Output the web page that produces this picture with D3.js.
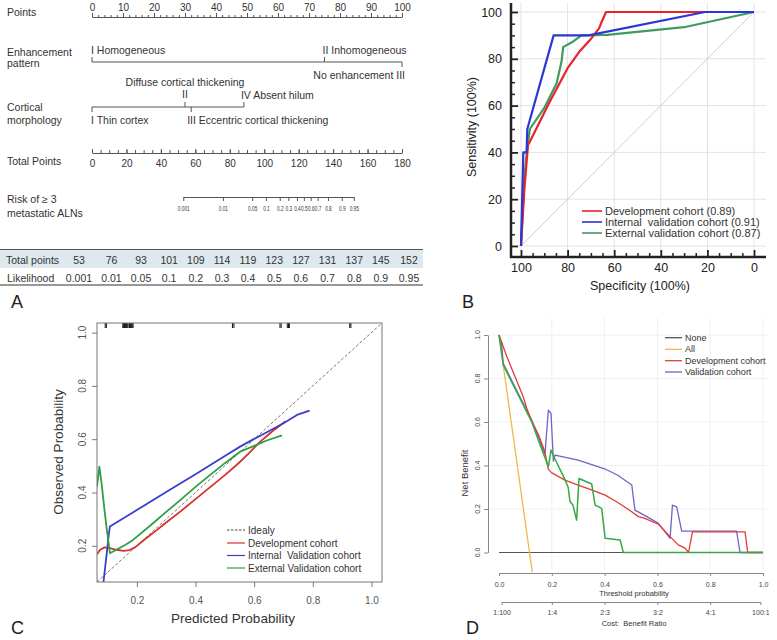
<!DOCTYPE html>
<html><head><meta charset="utf-8">
<script src="https://cdn.jsdelivr.net/npm/d3@7"></script>
<style>body{margin:0;background:#fff}svg{display:block}svg text{white-space:pre}</style>
</head><body>
<svg id="fig" width="777" height="640"></svg>
<script>
// ================= DATA =================
// Panel A – nomogram
const pointsTicks = d3.range(0, 101, 10);
const pointsMinor = d3.range(0, 101, 2);
const enhancementLabels = ["I Homogeneous", "II Inhomogeneous", "No enhancement III"];
const enhancementPoints = [0, 75, 100];
const corticalLabels = ["I Thin cortex", "II", "III Eccentric cortical thickening", "IV Absent hilum"];
const corticalPoints = [0, 30, 32, 49];
const corticalNote = "Diffuse cortical thickening";
const totalPointsTicks = d3.range(0, 181, 20);
const totalPointsMinor = d3.range(0, 181, 5);
const riskLabels = ["0.001","0.01","0.05","0.1","0.2","0.3","0.4","0.5","0.6","0.7","0.8","0.9","0.95"];
const riskTotalPoints = [53, 76, 93, 101, 109, 114, 119, 123, 127, 131, 137, 145, 152];
const nomoRowNames = ["Points", "Enhancement", "pattern", "Cortical", "morphology", "Total Points", "Risk of \u2265 3", "metastatic ALNs"];
const tableRowNames = ["Total points", "Likelihood"];

// Panel B – ROC (specificity %, sensitivity %)
const rocTicks = d3.range(0, 101, 20);
const rocMinor = d3.range(0, 101, 5);
const rocNames = ["Development cohort (0.89)", "Internal  validation cohort (0.91)", "External validation cohort (0.87)"];
const rocDev = [[100,0],[98.5,25],[97,43],[96,45],[88,61],[80,76],[75,83],[70,88.5],[66.5,93],[65.5,95.5],[63.5,100],[0,100]];
const rocInt = [[100,0],[99,40],[97.6,40],[97.3,50],[86,90],[71,90],[21,100],[0,100]];
const rocExt = [[100,0],[98.5,30],[97.3,42],[96.2,50],[90,59],[84.7,69.6],[82.6,78.9],[81.9,85],[77.6,87.4],[74,90],[63,90.2],[30,93.5],[0,100]];

// Panel C – calibration (predicted, observed)
const calibTicks = [0.2, 0.4, 0.6, 0.8, 1.0];
const calibNames = ["Idealy", "Development cohort", "Internal  Validation cohort", "External Validation cohort"];
const calibIdeal = [[0.064,0.064],[1.036,1.036]];
const calibDev = [[0.064,0.168],[0.075,0.185],[0.09,0.194],[0.105,0.192],[0.13,0.185],[0.155,0.181],[0.175,0.184],[0.195,0.195],[0.22,0.218],[0.26,0.252],[0.30,0.287],[0.35,0.33],[0.40,0.375],[0.45,0.42],[0.50,0.465],[0.54,0.503],[0.58,0.545],[0.62,0.59],[0.66,0.628],[0.706,0.666]];
const calibInt = [[0.086,0.064],[0.095,0.15],[0.104,0.24],[0.108,0.272],[0.2,0.334],[0.3,0.402],[0.4,0.468],[0.5,0.537],[0.552,0.572],[0.6,0.601],[0.643,0.626],[0.70,0.66],[0.746,0.691],[0.789,0.707]];
const calibExt = [[0.064,0.422],[0.072,0.497],[0.08,0.43],[0.09,0.33],[0.097,0.265],[0.108,0.172],[0.13,0.185],[0.16,0.203],[0.187,0.222],[0.25,0.28],[0.3,0.327],[0.35,0.373],[0.4,0.421],[0.45,0.466],[0.5,0.51],[0.552,0.553],[0.6,0.575],[0.643,0.595],[0.695,0.614]];
const calibRug = [0.092,0.096,0.152,0.155,0.158,0.161,0.164,0.167,0.17,0.175,0.178,0.181,0.184,0.187,0.526,0.531,0.688,0.692,0.713,0.717,0.72,0.926,0.93];

// Panel D – decision curve (threshold, net benefit)
const dcaTicks = [0, 0.2, 0.4, 0.6, 0.8, 1.0];
const dcaNames = ["None", "All", "Development cohort", "Validation cohort"];
const costLabels = ["1:100", "1:4", "2:3", "3:2", "4:1", "100:1"];
const costThresholds = [0.01, 0.2, 0.4, 0.6, 0.8, 0.99];
const dcaNone = [[0,0],[1,0]];
const dcaAll = [[0,1.0],[0.126,-0.09]];
const dcaDev = [[0,1.0],[0.03,0.9],[0.06,0.81],[0.092,0.715],[0.105,0.663],[0.124,0.605],[0.15,0.54],[0.174,0.462],[0.187,0.382],[0.2,0.366],[0.25,0.333],[0.3,0.31],[0.35,0.288],[0.402,0.264],[0.45,0.23],[0.5,0.19],[0.528,0.165],[0.55,0.158],[0.604,0.13],[0.648,0.073],[0.679,0.035],[0.705,0.02],[0.718,0.0],[0.733,0.095],[0.932,0.095],[0.942,0],[1,0]];
const dcaVal = [[0,1.0],[0.01,0.96],[0.016,0.87],[0.06,0.762],[0.124,0.608],[0.15,0.53],[0.174,0.452],[0.187,0.655],[0.197,0.64],[0.206,0.42],[0.212,0.448],[0.3,0.425],[0.4,0.385],[0.45,0.355],[0.503,0.31],[0.515,0.195],[0.56,0.165],[0.604,0.134],[0.648,0.065],[0.657,0.218],[0.673,0.21],[0.692,0.098],[0.90,0.098],[0.913,0],[1,0]];
const dcaExt = [[0,1.0],[0.016,0.862],[0.06,0.755],[0.124,0.60],[0.16,0.48],[0.187,0.395],[0.197,0.471],[0.212,0.43],[0.25,0.335],[0.262,0.30],[0.269,0.234],[0.28,0.218],[0.294,0.149],[0.303,0.34],[0.351,0.315],[0.364,0.218],[0.389,0.203],[0.402,0.065],[0.459,0.058],[0.471,0],[1,0]];

// ================= DRAWING =================
const FONT = "'Liberation Sans', Arial, Helvetica, sans-serif";
const svg = d3.select("#fig").attr("font-family", FONT);
svg.append("rect").attr("width", 777).attr("height", 640).attr("fill", "#fff");

function styleAxis(g, size, txtc, line, sw, keepDomain) {
  g.attr("font-family", FONT).attr("font-size", size);
  g.selectAll(".tick line").attr("stroke", line).attr("stroke-width", sw);
  g.selectAll(".tick text").attr("fill", txtc);
  if (keepDomain) g.select(".domain").attr("stroke", line).attr("stroke-width", sw);
  else g.select(".domain").remove();
  return g;
}
function txt(g, x, y, s, size, anchor, fill) {
  return g.append("text").attr("x", x).attr("y", y).attr("font-size", size)
    .attr("text-anchor", anchor || "start").attr("fill", fill || "#333").text(s);
}
function panelLabel(x, y, s) { txt(svg, x, y, s, 18, "start", "#222"); }

// ---------- Panel A ----------
const A = svg.append("g");
const ptsX = d3.scaleLinear().domain([0, 100]).range([92, 402]);
const totX = d3.scaleLinear().domain([0, 180]).range([92, 402]);
const AC = "#333", AL = "#555", AF = 10.5;

const rowY = [15.5, 56, 67, 111, 124, 165, 203, 217];
nomoRowNames.forEach((n, i) => txt(A, 7, rowY[i], n, AF, "start", AC));

// Points axis
const gPm = A.append("g").attr("transform", "translate(0,17)")
  .call(d3.axisTop(ptsX).tickValues(pointsMinor).tickSize(2).tickSizeOuter(0).tickFormat(""));
styleAxis(gPm, AF, AC, AL, 1, true);
const gP = A.append("g").attr("transform", "translate(0,17)")
  .call(d3.axisTop(ptsX).tickValues(pointsTicks).tickSize(4).tickPadding(2));
styleAxis(gP, 10, AC, AL, 1, false);

// Enhancement pattern
const eY = 62;
A.append("line").attr("x1", ptsX(d3.min(enhancementPoints))).attr("x2", ptsX(d3.max(enhancementPoints)))
  .attr("y1", eY).attr("y2", eY).attr("stroke", AL);
const eSide = [-1, -1, 1];
enhancementPoints.forEach((p, i) => {
  A.append("line").attr("x1", ptsX(p)).attr("x2", ptsX(p)).attr("y1", eY).attr("y2", eY + eSide[i] * 5).attr("stroke", AL);
});
txt(A, ptsX(enhancementPoints[0]) - 1, 54, enhancementLabels[0], AF, "start", AC);
txt(A, ptsX(enhancementPoints[1]) - 2, 54, enhancementLabels[1], AF, "start", AC);
txt(A, ptsX(enhancementPoints[2]) + 3, 79, enhancementLabels[2], AF, "end", AC);

// Cortical morphology
const cY = 107;
A.append("line").attr("x1", ptsX(d3.min(corticalPoints))).attr("x2", ptsX(d3.max(corticalPoints)))
  .attr("y1", cY).attr("y2", cY).attr("stroke", AL);
const cSide = [1, -1, 1, -1];
corticalPoints.forEach((p, i) => {
  A.append("line").attr("x1", ptsX(p)).attr("x2", ptsX(p)).attr("y1", cY).attr("y2", cY + cSide[i] * 5).attr("stroke", AL);
});
txt(A, ptsX(corticalPoints[0]) - 1, 124, corticalLabels[0], AF, "start", AC);
txt(A, ptsX(corticalPoints[1]), 97.5, corticalLabels[1], AF, "middle", AC);
txt(A, ptsX(corticalPoints[1]), 86, corticalNote, AF, "middle", AC);
txt(A, ptsX(corticalPoints[2]) - 4, 124, corticalLabels[2], AF, "start", AC);
txt(A, ptsX(corticalPoints[3]) - 3, 98.5, corticalLabels[3], AF, "start", AC);

// Total points axis
const tY = 153;
const gTm = A.append("g").attr("transform", `translate(0,${tY})`)
  .call(d3.axisBottom(totX).tickValues(totalPointsMinor).tickSize(-3).tickSizeOuter(0).tickFormat(""));
styleAxis(gTm, AF, AC, AL, 1, true);
const gT = A.append("g").attr("transform", `translate(0,${tY})`)
  .call(d3.axisBottom(totX).tickValues(totalPointsTicks).tickSize(-4).tickPadding(7));
styleAxis(gT, 10, AC, AL, 1, false);

// Risk axis (condensed tiny labels)
const rY = 197;
const riskX = d3.scaleLinear().domain(d3.extent(riskTotalPoints)).range(d3.extent(riskTotalPoints).map(totX));
const gR = A.append("g").attr("transform", `translate(0,${rY})`)
  .call(d3.axisBottom(riskX).tickValues(riskTotalPoints).tickSize(4).tickSizeOuter(0).tickPadding(5)
    .tickFormat((d, i) => riskLabels[i]));
styleAxis(gR, 6.6, AC, AL, 1, true);
gR.selectAll(".tick text").attr("transform", "scale(0.72,1)");

// Table
const tblTop = 249.5, tblMid = 268, tblBot = 285;
A.append("rect").attr("x", 0).attr("y", tblTop).attr("width", 423).attr("height", tblMid - tblTop).attr("fill", "#dde9ee");
A.append("line").attr("x1", 0).attr("x2", 423).attr("y1", tblTop).attr("y2", tblTop).attr("stroke", "#555");
A.append("line").attr("x1", 0).attr("x2", 423).attr("y1", tblBot).attr("y2", tblBot).attr("stroke", "#333");
txt(A, 6, 263.5, tableRowNames[0], AF, "start", AC);
txt(A, 7, 281.5, tableRowNames[1], AF, "start", AC);
function measure(s) {
  const t = A.append("text").attr("font-size", AF).text(s);
  const w = t.node().getComputedTextLength(); t.remove(); return w;
}
const colW = riskTotalPoints.map((v, i) => Math.max(measure(String(v)), measure(riskLabels[i])));
const firstC = 79, lastC = 409;
let halfSum = 0; for (let i = 1; i < colW.length; i++) halfSum += (colW[i - 1] + colW[i]) / 2;
const gap = (lastC - firstC - halfSum) / (colW.length - 1);
const colX = [firstC];
for (let i = 1; i < colW.length; i++) colX.push(colX[i - 1] + (colW[i - 1] + colW[i]) / 2 + gap);
riskTotalPoints.forEach((v, i) => {
  txt(A, colX[i], 263.5, String(v), AF, "middle", AC);
  txt(A, colX[i], 281.5, riskLabels[i], AF, "middle", AC);
});
panelLabel(11, 308, "A");

// ---------- Panel B ----------
const B = svg.append("g");
const bx = d3.scaleLinear().domain([100, 0]).range([521, 754]);
const by = d3.scaleLinear().domain([0, 100]).range([246, 12]);
const bL = 511, bR = 766, bT = 3, bB = 257;
B.selectAll(".gh").data(rocTicks).join("line").attr("x1", bL).attr("x2", bR)
  .attr("y1", d => by(d)).attr("y2", d => by(d)).attr("stroke", "#e3e3e3");
B.selectAll(".gv").data(rocTicks).join("line").attr("y1", bT).attr("y2", bB)
  .attr("x1", d => bx(d)).attr("x2", d => bx(d)).attr("stroke", "#e3e3e3");
B.append("line").attr("x1", bx(100)).attr("y1", by(0)).attr("x2", bx(0)).attr("y2", by(100))
  .attr("stroke", "#dcc8c8").attr("stroke-width", 1);
const rocLine = d3.line().x(d => bx(d[0])).y(d => by(d[1]));
const rocColors = ["#e8242a", "#2a36d6", "#3c9c60"];
[[rocExt, 2], [rocDev, 0], [rocInt, 1]].forEach(([s, k]) => {
  B.append("path").attr("d", rocLine(s)).attr("fill", "none").attr("stroke", rocColors[k]).attr("stroke-width", 2.2).attr("stroke-linejoin", "round");
});
const gBy = B.append("g").attr("transform", `translate(${bL},0)`)
  .call(d3.axisLeft(by).tickValues(rocTicks).tickSize(-7).tickPadding(9));
styleAxis(gBy, 12.5, "#222", "#222", 1.8, false);
const gBym = B.append("g").attr("transform", `translate(${bL},0)`)
  .call(d3.axisLeft(by).tickValues(rocMinor.filter(d => d % 20)).tickSize(-4).tickFormat(""));
styleAxis(gBym, 12.5, "#222", "#222", 1.5, false);
const gBx = B.append("g").attr("transform", `translate(0,${bB})`)
  .call(d3.axisBottom(bx).tickValues(rocTicks).tickSize(-7).tickPadding(6));
styleAxis(gBx, 12.5, "#222", "#222", 1.8, false);
const gBxm = B.append("g").attr("transform", `translate(0,${bB})`)
  .call(d3.axisBottom(bx).tickValues(rocMinor.filter(d => d % 20)).tickSize(-4).tickFormat(""));
styleAxis(gBxm, 12.5, "#222", "#222", 1.5, false);
B.append("line").attr("x1", bL).attr("x2", bL).attr("y1", bT).attr("y2", bB + 1).attr("stroke", "#222").attr("stroke-width", 2.5);
B.append("line").attr("x1", bL - 1).attr("x2", bR).attr("y1", bB).attr("y2", bB).attr("stroke", "#222").attr("stroke-width", 2.5);
B.append("text").attr("transform", "translate(472,127) rotate(-90)").attr("text-anchor", "middle")
  .attr("dy", "0.35em").attr("font-size", 12.5).attr("fill", "#222").text("Sensitivity (100%)");
txt(B, 640, 289.5, "Specificity (100%)", 12.5, "middle", "#222");
const bLegY = [211, 222, 233];
rocNames.forEach((n, i) => {
  B.append("line").attr("x1", 582).attr("x2", 602).attr("y1", bLegY[i]).attr("y2", bLegY[i]).attr("stroke", rocColors[i]).attr("stroke-width", 1.6);
  B.append("text").attr("x", 605).attr("y", bLegY[i]).attr("dy", "0.35em").attr("font-size", 11).attr("fill", "#333").text(n);
});
panelLabel(462, 308, "B");

// ---------- Panel C ----------
const C = svg.append("g");
const cL = 97, cR = 382, cT = 323, cB = 582;
const cx = d3.scaleLinear().domain([0.064, 1.036]).range([cL, cR]);
const cy = d3.scaleLinear().domain([0.064, 1.036]).range([cB, cT]);
C.append("defs").append("clipPath").attr("id", "clipC").append("rect")
  .attr("x", cL).attr("y", cT).attr("width", cR - cL).attr("height", cB - cT);
const cLine = d3.line().x(d => cx(d[0])).y(d => cy(d[1]));
const cPlot = C.append("g").attr("clip-path", "url(#clipC)");
cPlot.append("path").attr("d", cLine(calibIdeal)).attr("fill", "none").attr("stroke", "#777").attr("stroke-dasharray", "3,2").attr("stroke-width", 1);
const calibColors = ["#444", "#d9302c", "#3a3fc8", "#2f9e44"];
[calibDev, calibInt, calibExt].forEach((s, k) => {
  cPlot.append("path").attr("d", cLine(s)).attr("fill", "none").attr("stroke", calibColors[k + 1]).attr("stroke-width", 1.8).attr("stroke-linejoin", "round");
});
cPlot.selectAll(".rug").data(calibRug).join("line").attr("x1", d => cx(d)).attr("x2", d => cx(d))
  .attr("y1", cT).attr("y2", cT + 5).attr("stroke", "#111").attr("stroke-width", 1);
C.append("rect").attr("x", cL).attr("y", cT).attr("width", cR - cL).attr("height", cB - cT)
  .attr("fill", "none").attr("stroke", "#777").attr("stroke-width", 1);
const gCx = C.append("g").attr("transform", `translate(0,${cB})`)
  .call(d3.axisBottom(cx).tickValues(calibTicks).tickSize(5).tickPadding(10).tickFormat(d3.format(".1f")));
styleAxis(gCx, 10, "#555", "#777", 1, false);
const gCy = C.append("g").attr("transform", `translate(${cL},0)`)
  .call(d3.axisLeft(cy).tickValues(calibTicks).tickSize(5).tickFormat(""));
styleAxis(gCy, 10, "#555", "#777", 1, false);
C.selectAll(".cyl").data(calibTicks).join("text")
  .attr("transform", d => `translate(82,${cy(d)}) rotate(-90)`).attr("text-anchor", "middle").attr("dy", "0.35em")
  .attr("font-size", 10).attr("fill", "#555").text(d3.format(".1f"));
C.append("text").attr("transform", "translate(58,452) rotate(-90)").attr("text-anchor", "middle")
  .attr("dy", "0.35em").attr("font-size", 13.5).attr("fill", "#333").text("Observed Probability");
txt(C, 233, 623, "Predicted Probability", 13.5, "middle", "#333");
const cLegY = [530, 543, 555.5, 568];
calibNames.forEach((n, i) => {
  C.append("line").attr("x1", 227).attr("x2", 245).attr("y1", cLegY[i]).attr("y2", cLegY[i])
    .attr("stroke", calibColors[i]).attr("stroke-width", 1.2).attr("stroke-dasharray", i === 0 ? "2.5,1.5" : null);
  C.append("text").attr("x", 248).attr("y", cLegY[i]).attr("dy", "0.35em").attr("font-size", 10).attr("fill", "#333").text(n);
});
panelLabel(11, 634, "C");

// ---------- Panel D ----------
const D = svg.append("g");
const dx = d3.scaleLinear().domain([0, 1]).range([499, 763]);
const dy = d3.scaleLinear().domain([0, 1]).range([552.5, 335]);
D.selectAll(".dgv").data(dcaTicks.slice(1)).join("line").attr("x1", d => dx(d)).attr("x2", d => dx(d))
  .attr("y1", 318).attr("y2", 570).attr("stroke", "#f0f0f0");
D.selectAll(".dgh").data(dcaTicks.slice(1)).join("line").attr("y1", d => dy(d)).attr("y2", d => dy(d))
  .attr("x1", 490).attr("x2", 768).attr("stroke", "#f0f0f0");
const dLine = d3.line().x(d => dx(d[0])).y(d => dy(d[1]));
const dcaColors = ["#555", "#f0b94a", "#e33b35", "#6f63c6"];
const dcaGreen = "#36a845";
D.append("path").attr("d", dLine(dcaNone)).attr("fill", "none").attr("stroke", dcaColors[0]).attr("stroke-width", 1.2);
D.append("path").attr("d", dLine(dcaAll)).attr("fill", "none").attr("stroke", dcaColors[1]).attr("stroke-width", 1.3);
D.append("path").attr("d", dLine(dcaVal)).attr("fill", "none").attr("stroke", dcaColors[3]).attr("stroke-width", 1.3).attr("stroke-linejoin", "round");
D.append("path").attr("d", dLine(dcaDev)).attr("fill", "none").attr("stroke", dcaColors[2]).attr("stroke-width", 1.3).attr("stroke-linejoin", "round");
D.append("path").attr("d", dLine(dcaExt)).attr("fill", "none").attr("stroke", dcaGreen).attr("stroke-width", 1.5).attr("stroke-linejoin", "round");
const gDy = D.append("g").attr("transform", "translate(488,0)")
  .call(d3.axisLeft(dy).tickValues(dcaTicks).tickSize(4).tickSizeOuter(0).tickFormat(""));
styleAxis(gDy, 7, "#444", "#888", 1, true);
D.selectAll(".dyl").data(dcaTicks).join("text")
  .attr("transform", d => `translate(478,${dy(d)}) rotate(-90)`).attr("text-anchor", "middle").attr("dy", "0.35em")
  .attr("font-size", 7).attr("fill", "#444").text(d3.format(".1f"));
D.append("text").attr("transform", "translate(465,473) rotate(-90)").attr("text-anchor", "middle")
  .attr("dy", "0.35em").attr("font-size", 9.5).attr("fill", "#333").text("Net Benefit");
const gDx = D.append("g").attr("transform", "translate(0,573)")
  .call(d3.axisBottom(dx).tickValues(dcaTicks).tickSize(3).tickSizeOuter(0).tickPadding(6).tickFormat(d3.format(".1f")));
styleAxis(gDx, 7, "#444", "#888", 1, true);
txt(D, 634, 596, "Threshold probability", 7.5, "middle", "#333");
const costX = d3.scaleLinear().domain(d3.extent(costThresholds)).range(d3.extent(costThresholds).map(dx));
const gDc = D.append("g").attr("transform", "translate(0,602)")
  .call(d3.axisBottom(costX).tickValues(costThresholds).tickSize(3).tickSizeOuter(0).tickPadding(5).tickFormat((d, i) => costLabels[i]));
styleAxis(gDc, 7, "#444", "#888", 1, true);
txt(D, 634, 625.5, "Cost:  Benefit Ratio", 7.5, "middle", "#333");
const dLegY = [337.7, 349.3, 360.7, 372];
dcaNames.forEach((n, i) => {
  D.append("line").attr("x1", 665).attr("x2", 682).attr("y1", dLegY[i]).attr("y2", dLegY[i]).attr("stroke", dcaColors[i]).attr("stroke-width", 1.3);
  D.append("text").attr("x", 685).attr("y", dLegY[i]).attr("dy", "0.35em").attr("font-size", 9).attr("fill", "#333").text(n);
});
panelLabel(466, 634, "D");
</script>
</body></html>
